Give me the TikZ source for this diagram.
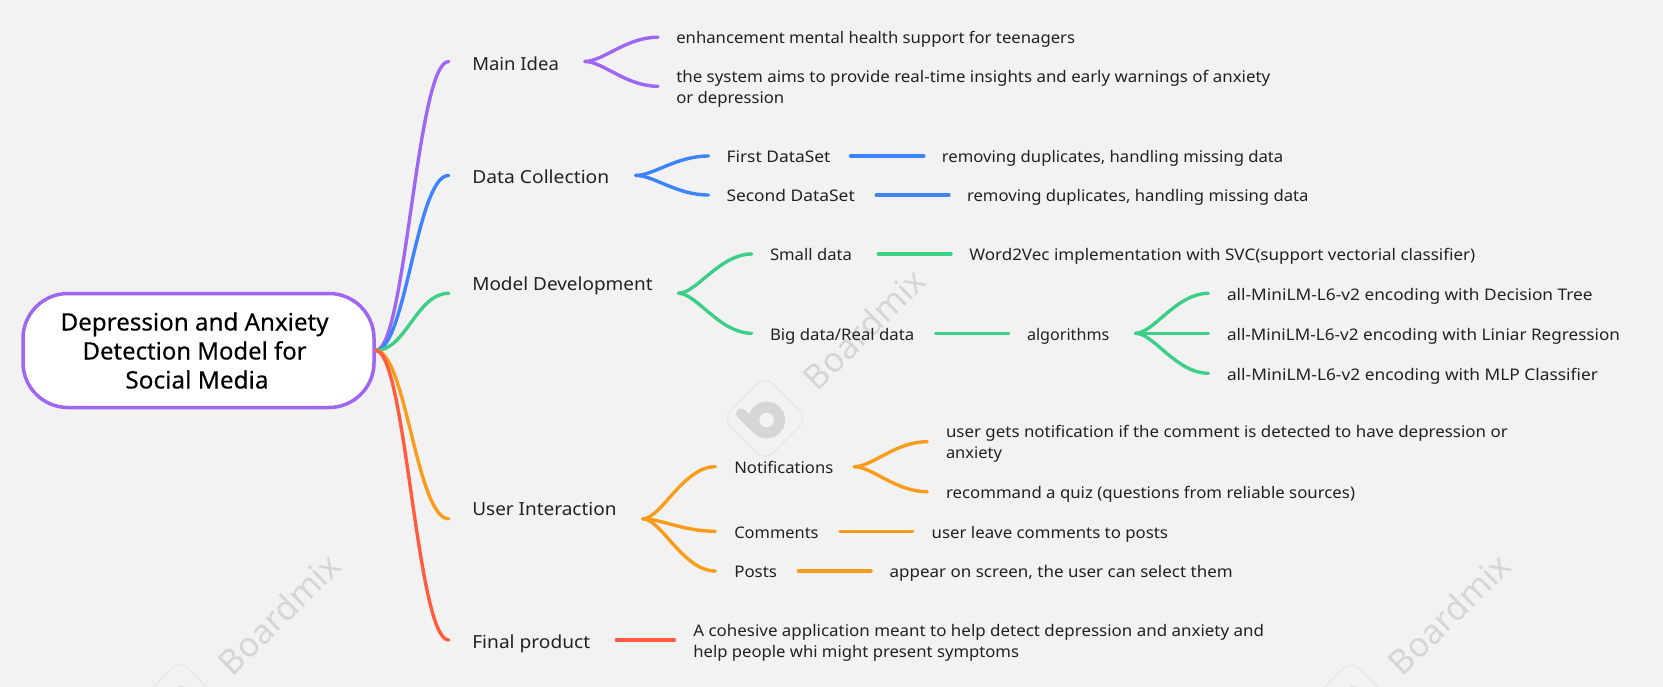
\documentclass[tikz,border=0pt]{standalone}
\usepackage{fontspec}
\setmainfont{Noto Sans}
\newfontfamily\titlefont[FakeBold=0.25]{Noto Sans}
\newcommand\tx[4]{\hspace*{#1pt}\resizebox{#2pt}{\height}{#4}\hspace*{#3pt}\mbox{}}
\definecolor{bgc}{HTML}{F2F2F2}
\definecolor{cpurple}{HTML}{9F66F2}
\definecolor{cblue}{HTML}{3D82FF}
\definecolor{cgreen}{HTML}{3ECF87}
\definecolor{corange}{HTML}{F99C1C}
\definecolor{cred}{HTML}{FF5C3F}
\definecolor{ink}{HTML}{222222}
\definecolor{wmk}{HTML}{D6D6D6}
\definecolor{wmkline}{HTML}{E8E8E8}
\tikzset{
  lone/.style={anchor=west,inner sep=0pt,outer sep=0pt,text=ink,font=\fontsize{18}{22}\selectfont,text height=16.5pt,text depth=1pt},
  ltwo/.style={anchor=west,inner sep=0pt,outer sep=0pt,text=ink,font=\fontsize{16}{21}\selectfont,text height=14.5pt,text depth=1pt},
  lmulti/.style={anchor=west,inner sep=0pt,outer sep=0pt,text=ink,font=\fontsize{16}{21}\selectfont,align=left},
  wire/.style={line width=3.4pt,line cap=round},
  wmtext/.style={text=wmk,font=\fontsize{34}{34}\selectfont,rotate=44.5,inner sep=0pt},
  wmbadge/.style={draw=wmkline,line width=1.5pt,rounded corners=11pt,rotate=45,minimum size=60pt,inner sep=0pt},
}
\newcommand\fork[2]{\draw[wire] (#1) .. controls +(18,0) and +(-32,0) .. (#2);}
\newcommand\limb[2]{\draw[wire] (#1) .. controls +(30,0) and +(-32,0) .. (#2);}
\begin{document}
\begin{tikzpicture}[x=1pt,y=-1pt]
\useasboundingbox (0,0) rectangle (1663,687);
\fill[bgc] (0,0) rectangle (1663,687);

% watermarks
\node[wmtext] (wma) at (864,329) {Boardmix};
\node[wmtext] (wmb) at (279,614) {Boardmix};
\node[wmtext] (wmc) at (1449,614) {Boardmix};
\foreach \cx/\cy/\nm in {765/418.3/ba,180/703/bb,1351/703/bc}{
  \node[wmbadge] (\nm) at (\cx,\cy) {};
  \begin{scope}[shift={(\cx,\cy)}]
    \draw[wmk,line width=11pt] (1.7,1.7) circle[radius=13];
    \draw[wmk,line width=10pt,line cap=round] (-24,-5) -- (-9,10);
  \end{scope}
}

% central topic
\node[draw=cpurple,line width=3.5pt,fill=white,rounded corners=45pt,minimum width=351pt,minimum height=114pt,inner sep=0pt,align=center,text=black,font=\titlefont\fontsize{24}{29}\selectfont] (box) at (198.5,350.5)
 {\tx{0}{268}{7.8}{Depression and Anxiety}\\\tx{0}{224}{7.8}{Detection Model for}\\\tx{0}{143.3}{3}{Social Media}};

% main idea
\node[lone] (main) at (448.7,61.5) {\tx{23.6}{86.6}{26}{\raisebox{-1pt}{Main Idea}}};
\node[ltwo] (enh) at (658,37.2) {\tx{18.3}{398.8}{0}{enhancement mental health support for teenagers}};
\node[lmulti] (sys) at (658,86.3) {\rule{0pt}{17pt}\tx{18.3}{594}{0}{the system aims to provide real-time insights and early warnings of anxiety}\\ \tx{18.3}{108}{0}{or depression}};
\begin{scope}[cpurple]
\limb{box.east}{main.west}
\fork{main.east}{enh.west}
\fork{main.east}{sys.west}
\end{scope}

% data collection
\node[lone] (data) at (448.7,175.4) {\tx{23.6}{137}{26.4}{Data Collection}};
\node[ltwo] (first) at (708.5,156) {\tx{18}{104}{20}{First DataSet}};
\node[ltwo] (firstd) at (923.8,156) {\tx{18}{341.5}{0}{removing duplicates, handling missing data}};
\node[ltwo] (second) at (708.5,195) {\tx{18}{128.3}{21.5}{Second DataSet}};
\node[ltwo] (secondd) at (949,195) {\tx{18}{341.5}{0}{removing duplicates, handling missing data}};
\begin{scope}[cblue]
\limb{box.east}{data.west}
\fork{data.east}{first.west}
\fork{data.east}{second.west}
\draw[wire] (first) -- (firstd);
\draw[wire] (second) -- (secondd);
\end{scope}

% model development
\node[lone] (model) at (448.7,293.3) {\tx{23.6}{180.4}{25.8}{\raisebox{10.8pt}{Model Development}}};
\node[ltwo] (small) at (751.7,254) {\tx{18.3}{82}{26.3}{Small data}};
\node[ltwo] (w2v) at (951,254) {\tx{18.3}{506}{0}{Word2Vec implementation with SVC(support vectorial classifier)}};
\node[ltwo] (big) at (751.7,333.3) {\tx{18.3}{144.3}{21.4}{Big data/Real data}};
\node[ltwo] (algo) at (1008.7,333.3) {\tx{18.3}{82.3}{26.3}{algorithms}};
\node[ltwo] (dt) at (1208.3,293.3) {\tx{18.7}{365.7}{0}{all-MiniLM-L6-v2 encoding with Decision Tree}};
\node[ltwo] (lr) at (1208.3,333.3) {\tx{18.7}{393}{0}{all-MiniLM-L6-v2 encoding with Liniar Regression}};
\node[ltwo] (mlp) at (1208.3,373.3) {\tx{18.7}{371}{0}{all-MiniLM-L6-v2 encoding with MLP Classifier}};
\begin{scope}[cgreen]
\limb{box.east}{model.west}
\fork{model.east}{small.west}
\fork{model.east}{big.west}
\draw[wire] (small) -- (w2v);
\draw[wire] (big) -- (algo);
\fork{algo.east}{dt.west}
\fork{algo.east}{mlp.west}
\draw[wire] (algo.east) -- (lr.west);
\end{scope}

% user interaction
\node[lone] (user) at (448.7,518.8) {\tx{23.6}{144.2}{26.4}{\raisebox{11.5pt}{User Interaction}}};
\node[ltwo] (notif) at (715.3,466.7) {\tx{19}{99}{21}{Notifications}};
\node[lmulti] (ngets) at (927.3,441.7) {\rule{0pt}{17pt}\tx{18.7}{561.7}{0}{user gets notification if the comment is detected to have depression or}\\ \tx{18.7}{56}{0}{anxiety}};
\node[ltwo] (quiz) at (927.3,491.7) {\tx{18.7}{409}{0}{recommand a quiz (questions from reliable sources)}};
\node[ltwo] (comm) at (715.3,531.3) {\tx{19}{84.3}{21.4}{Comments}};
\node[ltwo] (commd) at (912.7,531.3) {\tx{19}{236.3}{0}{user leave comments to posts}};
\node[ltwo] (posts) at (715.3,571) {\tx{19}{42.7}{21.3}{Posts}};
\node[ltwo] (postsd) at (871,571) {\tx{18.7}{343}{0}{appear on screen, the user can select them}};
\begin{scope}[corange]
\limb{box.east}{user.west}
\fork{user.east}{notif.west}
\fork{user.east}{comm.west}
\fork{user.east}{posts.west}
\fork{notif.east}{ngets.west}
\fork{notif.east}{quiz.west}
\draw[wire] (comm) -- (commd);
\draw[wire] (posts) -- (postsd);
\end{scope}

% final product
\node[lone] (final) at (448.7,640) {\tx{23.6}{117.9}{26}{\raisebox{-1pt}{Final product}}};
\node[lmulti] (finald) at (674.3,640) {\rule{0pt}{17pt}\tx{19}{570.7}{0}{A cohesive application meant to help detect depression and anxiety and}\\ \tx{19}{325.7}{0}{help people whi might present symptoms}};
\begin{scope}[cred]
\limb{box.east}{final.west}
\draw[wire] (final) -- (finald);
\end{scope}
\end{tikzpicture}
\end{document}
